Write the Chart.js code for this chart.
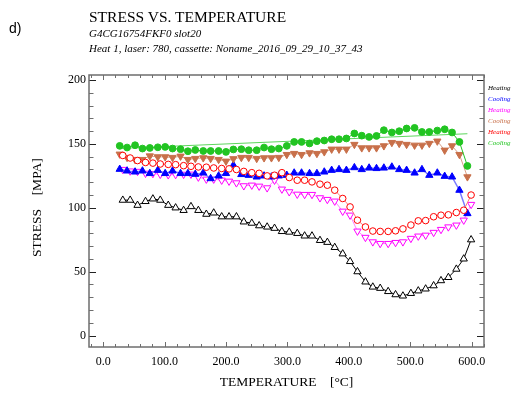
<!DOCTYPE html>
<html>
<head>
<meta charset="utf-8">
<script src="https://cdn.jsdelivr.net/npm/chart.js@4"></script>
<style>
  body { margin: 0; background: #fff; }
  #wrap { position: relative; width: 520px; height: 398px; overflow: hidden; }
  canvas { position: absolute; left: 0; top: 0; }
  .t { position: absolute; white-space: pre; font-family: "Liberation Serif", "Times New Roman", serif; color: #000; }
  #panel { font-family: "Liberation Sans", Arial, sans-serif; font-size: 14px; line-height: 14px; left: 9px; top: 21px; }
  #title { font-size: 15.5px; line-height: 15.5px; left: 89px; top: 9px; }
  #sub1 { font-size: 11px; line-height: 11px; font-style: italic; left: 89px; top: 27.5px; }
  #sub2 { font-size: 11px; line-height: 11px; font-style: italic; left: 89px; top: 42.5px; }
  .leg { font-size: 7px; line-height: 7px; font-style: italic; left: 488px; }
</style>
</head>
<body>
<div id="wrap">
  <canvas id="c" width="520" height="398"></canvas>
  <div class="t" id="panel">d)</div>
  <div class="t" id="title">STRESS VS. TEMPERATURE</div>
  <div class="t" id="sub1">G4CG16754FKF0 slot20</div>
  <div class="t" id="sub2">Heat 1, laser: 780, cassette: Noname_2016_09_29_10_37_43</div>
</div>
<script>
// temperatures (°C) of the heating and cooling measurement points
const heatTemps = [32,44,56,69,81,93,106,118,131,143,155,168,180,193,205,217,229,242,254,267,279,291,303,316,328,340,353,365,377,390,402,414,427,439,451,464,476,488,501,513,525,538,550,562,575,587,599];
const coolTemps = [27,39,52,64,76,89,101,113,126,138,150,163,175,188,200,212,225,237,250,262,274,286,299,311,323,336,348,360,372,384,396,409,421,433,445,457,470,482,494,507,519,531,544,556,568,580,593];

// stress (MPa)
const heating1 = [106,106,102,105,107,106,102,100,98,101,98,95,96,93,93,93,89,88,86,85,84,81.5,81,80,78,78,74.5,73,69,64,58,50,42,38,37,34.5,32,31,33,35,36.5,39,43,45.5,52,60,75];
const cooling1 = [130.2,128.9,128.1,128.9,126.9,129.4,126.9,128.9,126.9,126.9,126.3,127.3,122.9,125,126.9,133.4,126.1,125.5,124.2,125,124.2,125,125.5,127.3,127.3,126.9,126.9,128.1,129.4,130,129.4,131.5,130,131.2,130.8,131.2,132,130,129.4,127.3,130,125.5,127.3,124.7,124.2,113.8,95.5];
const heating2 = [130,128.8,128.5,127,126.8,126.2,125.8,126,126.2,126.3,124,122.4,122.4,121.6,120.8,119.5,117.2,117.7,116.9,115.6,121.6,114.6,112.5,110.6,110.4,110.4,107.8,106.5,105.2,97.3,94.2,81.7,76.8,73.3,72,72,72.8,73.3,76,77.8,78.5,80.7,83,85,86.4,90.3,102.6];
const cooling2 = [142,139.4,137.8,137.8,140.6,139.9,139.9,139.4,140.4,137.8,138.6,139.1,138.6,137.8,136.5,138.4,139.4,139.4,138.6,139.1,139.1,139.4,141.7,142.5,141.7,143,142.5,143.8,145.9,145.9,145.9,149.6,146.9,146.9,146.9,148.5,151.1,150.4,149.6,149,149,150.4,152.2,145.1,148.5,141.7,124.2];
const heating3 = [141,139,137,135.5,135,134.3,134,133.8,133,132.5,132,131.8,131.2,130.8,130.5,130,128.5,127.5,127,125,125.5,127.5,123.7,121.6,121.6,120.3,118.5,117.7,113.8,107.3,100.7,90.3,85,81.8,81.5,81.5,82,83.5,86.5,89.8,90,93,94.2,94.5,96.3,98.1,110];
const cooling3 = [148.5,147.2,149,146.4,146.9,147.4,147.7,146.4,145.9,144.3,145.3,144.5,144.5,144.5,143.8,145.7,145.9,145.1,145.1,147.2,145.9,146.4,148.5,151.6,151.6,150.4,152.2,152.7,153.7,153.7,154.3,158.2,156.5,155.5,156.3,160.8,159,160,162.1,162.6,159.4,159.4,160.5,161.5,159,151.6,132.8];

// straight trend line drawn under the last cooling run
const fitTemps = [27, 593];
const fitStress = [146.5, 158];

const xTicks = [0, 100, 200, 300, 400, 500, 600];
const yTicks = [0, 50, 100, 150, 200];
const legendLabels = ["Heating", "Cooling", "Heating", "Cooling", "Heating", "Cooling"];
const legendColors = ["#000000", "#0000ff", "#ff00ff", "#c8704a", "#ff0000", "#22c422"];

// legend on the right, plain coloured words
legendLabels.forEach((txt, i) => {
  const d = document.createElement("div");
  d.className = "t leg";
  d.style.top = (84.5 + i * 11.1) + "px";
  d.style.color = legendColors[i];
  d.textContent = txt;
  document.getElementById("wrap").appendChild(d);
});

const pts = (xs, ys) => xs.map((x, i) => ({ x: x, y: ys[i] }));

function series(xs, ys, o) {
  return Object.assign({
    data: pts(xs, ys),
    borderWidth: 1,
    pointRadius: 4.2,
    pointBorderWidth: 1,
    tension: 0
  }, o);
}

// frame with inward ticks on all four sides
const framePlugin = {
  id: "frame",
  beforeDatasetsDraw(chart) {
    const { ctx, chartArea: a, scales: { x, y } } = chart;
    ctx.save();
    ctx.strokeStyle = "#6e6e6e";
    ctx.lineWidth = 1;
    for (let v = -20; v <= 620; v += 20) {
      if (v < x.min || v > x.max) continue;
      const px = Math.round(x.getPixelForValue(v)) + 0.5;
      const len = v % 100 === 0 ? 5 : 3;
      ctx.beginPath();
      ctx.moveTo(px, a.bottom); ctx.lineTo(px, a.bottom - len);
      ctx.moveTo(px, a.top); ctx.lineTo(px, a.top + len);
      ctx.stroke();
    }
    for (let v = -10; v <= 210; v += 10) {
      if (v < y.min || v > y.max) continue;
      const py = Math.round(y.getPixelForValue(v)) + 0.5;
      const len = v % 50 === 0 ? 7 : 4.5;
      ctx.strokeStyle = v % 50 === 0 ? "#222" : "#6e6e6e";
      ctx.beginPath();
      ctx.moveTo(a.left, py); ctx.lineTo(a.left + len, py);
      ctx.moveTo(a.right, py); ctx.lineTo(a.right - len, py);
      ctx.stroke();
    }
    ctx.strokeStyle = "#6e6e6e";
    ctx.lineWidth = 1.5;
    ctx.strokeRect(a.left, a.top, a.right - a.left, a.bottom - a.top);
    ctx.restore();
  }
};

const tickFont = { family: "Liberation Serif", size: 12 };
const titleFont = { family: "Liberation Serif", size: 13.5 };

new Chart(document.getElementById("c"), {
  type: "line",
  data: {
    datasets: [
      series(coolTemps, cooling3, { borderColor: "#22c422", backgroundColor: "#22c422", pointStyle: "circle", pointRadius: 3.4, pointBorderColor: "#22c422", pointBackgroundColor: "#22c422" }),
      series(heatTemps, heating3, { borderColor: "#ff7a7a", pointStyle: "circle", pointRadius: 3.3, pointBorderColor: "#ff0000", pointBackgroundColor: "#ffffff" }),
      series(coolTemps, cooling2, { borderColor: "#d9a088", pointStyle: "triangle", rotation: 180, pointBorderColor: "#c8704a", pointBackgroundColor: "#c8704a" }),
      series(coolTemps, cooling1, { borderColor: "#7a7aff", borderWidth: 1.5, pointStyle: "triangle", pointBorderColor: "#0000ff", pointBackgroundColor: "#0000ff" }),
      series(heatTemps, heating2, { borderColor: "#ff80ff", pointStyle: "triangle", rotation: 180, pointBorderColor: "#ff00ff", pointBackgroundColor: "#ffffff" }),
      series(heatTemps, heating1, { borderColor: "#000000", pointStyle: "triangle", pointBorderColor: "#000000", pointBackgroundColor: "#ffffff" }),
      series(fitTemps, fitStress, { borderColor: "#5cd65c", pointRadius: 0 })
    ]
  },
  options: {
    responsive: false,
    animation: false,
    devicePixelRatio: 1,
    layout: { padding: { left: 0, top: 75, right: 36, bottom: 0 } },
    plugins: { legend: { display: false }, tooltip: { enabled: false } },
    scales: {
      x: {
        type: "linear", min: -23, max: 620,
        grid: { display: false, drawTicks: false },
        border: { display: false },
        afterBuildTicks: s => { s.ticks = xTicks.map(v => ({ value: v })); },
        afterFit: s => { s.height = 51; s.paddingLeft = 0; s.paddingRight = 0; },
        ticks: { padding: 8, color: "#000", font: tickFont, autoSkip: false, maxRotation: 0, callback: v => Number(v).toFixed(1) },
        title: { display: true, text: "TEMPERATURE    [°C]", color: "#000", font: titleFont, padding: { top: 0, bottom: 7 } }
      },
      y: {
        type: "linear", min: -9, max: 204,
        grid: { display: false, drawTicks: false },
        border: { display: false },
        afterBuildTicks: s => { s.ticks = yTicks.map(v => ({ value: v })); },
        afterFit: s => { s.width = 89; s.paddingTop = 0; s.paddingBottom = 0; },
        ticks: { padding: 3, color: "#000", font: tickFont, autoSkip: false, callback: v => String(v) },
        title: { display: true, text: "  STRESS    [MPA]", color: "#000", font: titleFont, padding: { top: 29, bottom: 0 } }
      }
    }
  },
  plugins: [framePlugin]
});
</script>
</body>
</html>
